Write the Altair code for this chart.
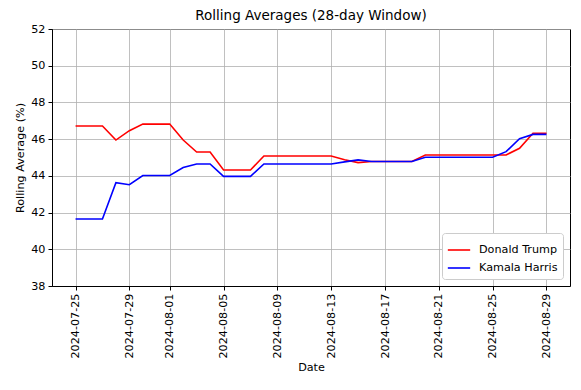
import altair as alt
import pandas as pd

dates = pd.date_range("2024-07-25", "2024-08-29", freq="D").strftime("%Y-%m-%d").tolist()
trump = [46.72, 46.72, 46.72, 45.95, 46.46, 46.82, 46.82, 46.82, 45.95, 45.30, 45.30,
         44.32, 44.32, 44.32, 45.08, 45.08, 45.08, 45.08, 45.08, 45.08, 44.88, 44.72,
         44.78, 44.78, 44.78, 44.78, 45.14, 45.14, 45.14, 45.14, 45.14, 45.14, 45.14,
         45.50, 46.32, 46.32]
harris = [41.65, 41.65, 41.65, 43.63, 43.52, 44.02, 44.02, 44.02, 44.45, 44.65, 44.65,
          43.97, 43.97, 43.97, 44.65, 44.65, 44.65, 44.65, 44.65, 44.65, 44.76, 44.87,
          44.78, 44.78, 44.78, 44.78, 45.01, 45.01, 45.01, 45.01, 45.01, 45.01, 45.32,
          46.02, 46.26, 46.26]
series_names = ["Donald Trump", "Kamala Harris"]
series_colors = ["#ff0000", "#0000ff"]
tick_dates = ["2024-07-25", "2024-07-29", "2024-08-01", "2024-08-05", "2024-08-09",
              "2024-08-13", "2024-08-17", "2024-08-21", "2024-08-25", "2024-08-29"]
y_ticks = [38, 40, 42, 44, 46, 48, 50, 52]

rows = []
for d, t, h in zip(dates, trump, harris):
    rows.append({"date": d, "value": t, "series": series_names[0]})
    rows.append({"date": d, "value": h, "series": series_names[1]})
df = pd.DataFrame(rows)

def ms(s):
    return int(pd.Timestamp(s, tz="UTC").timestamp() * 1000)

x0, x1 = ms(dates[0]), ms(dates[-1])
pad = (x1 - x0) * 0.05
x_domain = [x0 - pad, x1 + pad]
tick_ms = [ms(d) for d in tick_dates]

FONT = "DejaVu Sans"

chart = alt.Chart(df).mark_line(strokeWidth=1.6).encode(
    x=alt.X("date:T",
            scale=alt.Scale(type="utc", domain=x_domain, nice=False),
            axis=alt.Axis(values=tick_ms,
                          labelExpr="utcFormat(datum.value, '%Y-%m-%d')",
                          labelAngle=-90, title="Date", titlePadding=3,
                          labelPadding=3)),
    y=alt.Y("value:Q",
            scale=alt.Scale(domain=[38, 52], nice=False, zero=False),
            axis=alt.Axis(values=y_ticks, title="Rolling Average (%)",
                          titlePadding=5, labelPadding=3)),
    color=alt.Color("series:N",
                    scale=alt.Scale(domain=series_names, range=series_colors),
                    legend=alt.Legend(title=None, orient="bottom-right", offset=7,
                                      symbolType="stroke", symbolSize=500,
                                      symbolStrokeWidth=1.6, labelFontSize=11.2,
                                      labelFont=FONT, labelColor="black",
                                      fillColor="white", strokeColor="#cccccc",
                                      cornerRadius=3, padding=5, rowPadding=0,
                                      labelOffset=8)),
).properties(
    width=518, height=257,
    title=alt.TitleParams("Rolling Averages (28-day Window)", fontSize=13.5,
                          font=FONT, fontWeight="normal", color="black", offset=1),
    padding={"left": 44, "top": 21, "right": 3, "bottom": 92},
    autosize="none",
    background="white",
).configure_view(
    stroke="black", strokeWidth=1
).configure_axis(
    labelFont=FONT, titleFont=FONT, labelFontSize=11.2, titleFontSize=11.2,
    titleFontWeight="normal", labelColor="black", titleColor="black",
    domainColor="black", tickColor="black", tickSize=4, domainWidth=1,
    gridColor="#b0b0b0", gridWidth=0.8, gridOpacity=1
)

chart.save("out.html", embed_options={"renderer": "svg", "actions": False})
